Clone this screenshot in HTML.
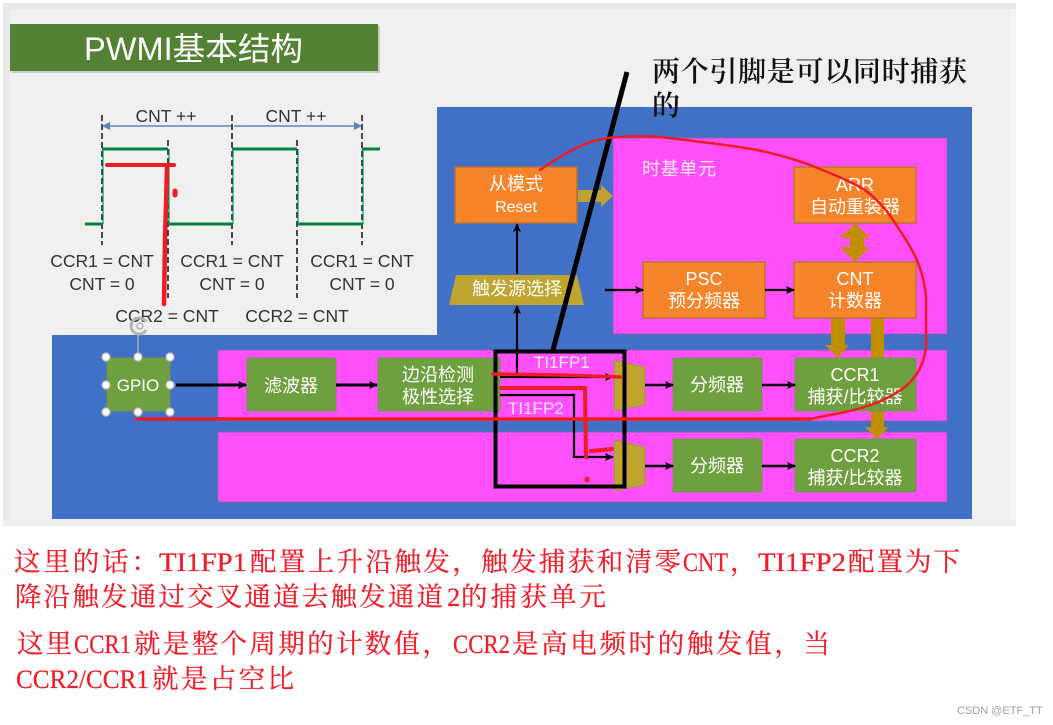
<!DOCTYPE html>
<html><head><meta charset="utf-8"><style>
html,body{margin:0;padding:0;background:#fff;width:1053px;height:725px;overflow:hidden}
svg{display:block}
text{font-family:"Liberation Sans","Noto Sans CJK SC",sans-serif}
.w{fill:#fff;font-size:18px;text-anchor:middle}
.d{fill:#333;font-size:17.5px;text-anchor:middle}
.r{fill:#f01c28;font-size:26.5px;stroke:#f01c28;stroke-width:.25px;font-family:"Liberation Serif","Noto Serif CJK SC",serif}
.k{fill:#111;font-size:28px;font-family:"Liberation Serif","Noto Serif CJK SC",serif;font-weight:600}
.soft{filter:blur(.35px)}
</style></head><body>
<svg width="1053" height="725" viewBox="0 0 1053 725" xmlns="http://www.w3.org/2000/svg">
<defs>
<marker id="a" markerWidth="9" markerHeight="8" refX="8" refY="4" orient="auto" markerUnits="userSpaceOnUse"><path d="M0 0L9 4L0 8L2 4Z" fill="#000"/></marker>
<marker id="b" markerWidth="8" markerHeight="8" refX="7" refY="4" orient="auto-start-reverse" markerUnits="userSpaceOnUse"><path d="M0 0L8 4L0 8Z" fill="#5b82c4"/></marker>
</defs>
<g class="soft">
<rect x="3" y="3" width="1013" height="523" fill="#e8e8e8"/>
<rect x="10" y="9" width="1000" height="511" fill="#f0f0f0"/>
<rect x="1010" y="9" width="6" height="517" fill="#f4f4f4"/>
<rect x="3" y="520" width="1013" height="6" fill="#f0f0f0"/>
<rect x="12" y="26" width="368" height="47" fill="#c8c8c8"/>
<rect x="10" y="24" width="368" height="47" fill="#548235"/>
<text x="84" y="60" fill="#fff" font-size="32" textLength="219" lengthAdjust="spacingAndGlyphs">PWMI基本结构</text>

<!-- waveform -->
<g stroke="#111" stroke-width="1.5" stroke-dasharray="6 3" fill="none">
<path d="M102 115V245M232 115V245M362 115V245M168 140V298M297 140V298"/>
</g>
<path d="M85 224H102M102 149H168M168 224H232M232 149H297M297 224H362M362 149H380" fill="none" stroke="#00803c" stroke-width="3"/>
<path d="M103 224V149M169 149V224M233 224V149M298 149V224M363 224V149" fill="none" stroke="#00a050" stroke-width="1.2"/>
<path d="M103 126H231M234 126H361" stroke="#5b82c4" stroke-width="1.5" fill="none" marker-start="url(#b)" marker-end="url(#b)"/>
<text class="d" x="166" y="122">CNT ++</text><text class="d" x="296" y="122">CNT ++</text>
<text class="d" x="102" y="267">CCR1 = CNT</text><text class="d" x="102" y="290">CNT = 0</text>
<text class="d" x="232" y="267">CCR1 = CNT</text><text class="d" x="232" y="290">CNT = 0</text>
<text class="d" x="362" y="267">CCR1 = CNT</text><text class="d" x="362" y="290">CNT = 0</text>
<text class="d" x="167" y="322">CCR2 = CNT</text><text class="d" x="297" y="322">CCR2 = CNT</text>

<!-- blue panels -->
<rect x="437" y="107" width="535" height="230" fill="#4071c6"/>
<rect x="52" y="335" width="920" height="184" fill="#4071c6"/>
<rect x="613" y="138" width="334" height="196" fill="#ff50fb" stroke="#8a5fb0"/>
<rect x="218" y="350" width="729" height="71" fill="#ff50fb" stroke="#8a5fb0"/>
<rect x="218" y="432" width="729" height="70" fill="#ff50fb" stroke="#8a5fb0"/>
<text x="642" y="175" fill="#ffe8ff" font-size="18" textLength="74">时基单元</text>

<!-- gold arrows -->
<path d="M578 190H601V185L613 196L601 207V202H578Z" fill="#bfa030"/>
<path d="M855 223L870 238H864V247H870L855 262L840 247H850V238H840Z" fill="#bf8f00"/>
<path d="M831 318H845V345H849L838 358L825 345H831Z" fill="#bf8f00"/>
<path d="M871 318H884V427H889L877 439L865 427H871Z" fill="#bf8f00"/>

<!-- orange -->
<g fill="#f5842a" stroke="#b9743a" stroke-width="1.5">
<rect x="455" y="167" width="122" height="56"/>
<rect x="794" y="167" width="122" height="56"/>
<rect x="643" y="262" width="122" height="56"/>
<rect x="794" y="262" width="122" height="56"/>
</g>
<text class="w" x="516" y="190">从模式</text><text class="w" x="516" y="212" font-size="16" style="font-size:16px">Reset</text>
<text class="w" x="855" y="191">ARR</text><text class="w" x="855" y="213">自动重装器</text>
<text class="w" x="704" y="285">PSC</text><text class="w" x="704" y="307">预分频器</text>
<text class="w" x="855" y="285">CNT</text><text class="w" x="855" y="307">计数器</text>
<path d="M456 275H577L584 305H449Z" fill="#bfa52f"/>
<text class="w" x="517" y="295">触发源选择</text>

<!-- green -->
<g fill="#6fa03f" stroke="#7d8c60" stroke-width="1">
<rect x="107" y="358" width="63" height="53"/>
<rect x="247" y="358" width="89" height="53"/>
<rect x="378" y="358" width="122" height="53"/>
<rect x="673" y="358" width="89" height="53"/>
<rect x="795" y="358" width="121" height="53"/>
<rect x="673" y="439" width="89" height="53"/>
<rect x="795" y="439" width="121" height="53"/>
</g>
<text class="w" x="138" y="391" style="font-size:17px">GPIO</text>
<text class="w" x="291" y="392">滤波器</text>
<text class="w" x="438" y="381">边沿检测</text><text class="w" x="438" y="403">极性选择</text>
<text class="w" x="717" y="391">分频器</text>
<text class="w" x="855" y="381">CCR1</text><text class="w" x="855" y="403">捕获/比较器</text>
<text class="w" x="717" y="472">分频器</text>
<text class="w" x="855" y="462">CCR2</text><text class="w" x="855" y="484">捕获/比较器</text>

<!-- mux -->
<path d="M614 360L645 367V405L614 411Z" fill="#bfa52f" stroke="#8a8a70" stroke-width=".7"/>
<path d="M614 440L645 447V485L614 491Z" fill="#bfa52f" stroke="#8a8a70" stroke-width=".7"/>

<!-- black connectors -->
<g stroke="#000" stroke-width="2.2" fill="none">
<path d="M176 385H246" marker-end="url(#a)" stroke-width="3"/>
<path d="M336 385H377" marker-end="url(#a)" stroke-width="3"/>
<path d="M645 385H673" marker-end="url(#a)" stroke-width="2.5"/>
<path d="M762 385H795" marker-end="url(#a)" stroke-width="2.5"/>
<path d="M645 466H673" marker-end="url(#a)" stroke-width="2.5"/>
<path d="M762 466H795" marker-end="url(#a)" stroke-width="2.5"/>
<path d="M605 290H643" marker-end="url(#a)"/>
<path d="M765 290H794" marker-end="url(#a)"/>
<path d="M517 274V224" marker-end="url(#a)"/>
<path d="M517 377V306" marker-end="url(#a)"/>
<path d="M500 377H613" marker-end="url(#a)"/>
<path d="M500 395H574V457H613" marker-end="url(#a)"/>
</g>
<text x="534" y="368" fill="#ffe6ff" font-size="17">TI1FP1</text>
<text x="508" y="414" fill="#ffe6ff" font-size="17">TI1FP2</text>

<!-- GPIO selection -->
<path d="M138 335V357" stroke="#a8b0c0" stroke-width="1.5"/>
<path d="M146 330A8 8 0 1 1 146 322" fill="none" stroke="#b4b4b4" stroke-width="3"/>
<circle cx="140" cy="326" r="3" fill="none" stroke="#b4b4b4" stroke-width="1.5"/>
<g fill="#fff" stroke="#c0c0c0" stroke-width="1.2">
<circle cx="106" cy="357" r="4"/><circle cx="138" cy="357" r="4"/><circle cx="170" cy="357" r="4"/>
<circle cx="106" cy="385" r="4"/><circle cx="170" cy="385" r="4"/>
<circle cx="106" cy="412" r="4"/><circle cx="138" cy="412" r="4"/><circle cx="170" cy="412" r="4"/>
</g>

<!-- black annotations -->
<rect x="495.5" y="351.5" width="129" height="135" fill="none" stroke="#000" stroke-width="4"/>
<path d="M627 72L553 350" stroke="#000" stroke-width="5" fill="none"/>

<!-- red annotations -->
<g fill="none" stroke="#ee1c25" stroke-linecap="round">
<path d="M107 165H174" stroke-width="4"/>
<path d="M167 168L165 240L164 304" stroke-width="4.5"/>
<path d="M175 191V195" stroke-width="5"/>
<path d="M493 374L560 375L620 377" stroke-width="3.5"/>
<path d="M501 388H585L586 457" stroke-width="4"/>
<path d="M591 451L612 449" stroke-width="4"/>
<path d="M587 479V480" stroke-width="5"/>
<path d="M540 170C565 153 585 141 607 138C625 136 643 136 660 137C695 141 730 145 757 150C780 155 798 160 815 167C835 175 852 182 865 190C877 199 887 210 895 223C905 238 913 250 918 263C923 275 925 285 926 297L926 345C925 362 918 376 905 387C885 402 860 410 830 415L810 419" stroke-width="2.5"/>
<path d="M137 419H810" stroke-width="3.5"/>
</g>
</g>
<text class="k" x="652" y="81" textLength="315">两个引脚是可以同时捕获</text>
<text class="k" x="652" y="115">的</text>

<!-- bottom text -->
<g>
<text class="r" x="14" y="571" textLength="144">这里的话：</text>
<text class="r" x="159" y="571" textLength="88" lengthAdjust="spacingAndGlyphs">TI1FP1</text>
<text class="r" x="250" y="571" textLength="431">配置上升沿触发，触发捕获和清零</text>
<text class="r" x="683" y="571" textLength="45" lengthAdjust="spacingAndGlyphs">CNT</text>
<text class="r" x="730" y="571">，</text>
<text class="r" x="758" y="571" textLength="88" lengthAdjust="spacingAndGlyphs">TI1FP2</text>
<text class="r" x="848" y="571" textLength="112">配置为下</text>
<text class="r" x="15" y="606" textLength="428">降沿触发通过交叉通道去触发通道</text>
<text class="r" x="447" y="606">2</text>
<text class="r" x="461" y="606" textLength="145">的捕获单元</text>
<text class="r" x="17" y="653" textLength="55">这里</text>
<text class="r" x="74" y="653" textLength="57" lengthAdjust="spacingAndGlyphs">CCR1</text>
<text class="r" x="134" y="653" textLength="315">就是整个周期的计数值，</text>
<text class="r" x="453" y="653" textLength="57" lengthAdjust="spacingAndGlyphs">CCR2</text>
<text class="r" x="512" y="653" textLength="318">是高电频时的触发值，当</text>
<text class="r" x="16" y="688" textLength="133" lengthAdjust="spacingAndGlyphs">CCR2/CCR1</text>
<text class="r" x="152" y="688" textLength="142">就是占空比</text>
</g>
<text x="957" y="714" fill="#a0a0a0" font-size="11">CSDN @ETF_TT</text>
</svg>
</body></html>
